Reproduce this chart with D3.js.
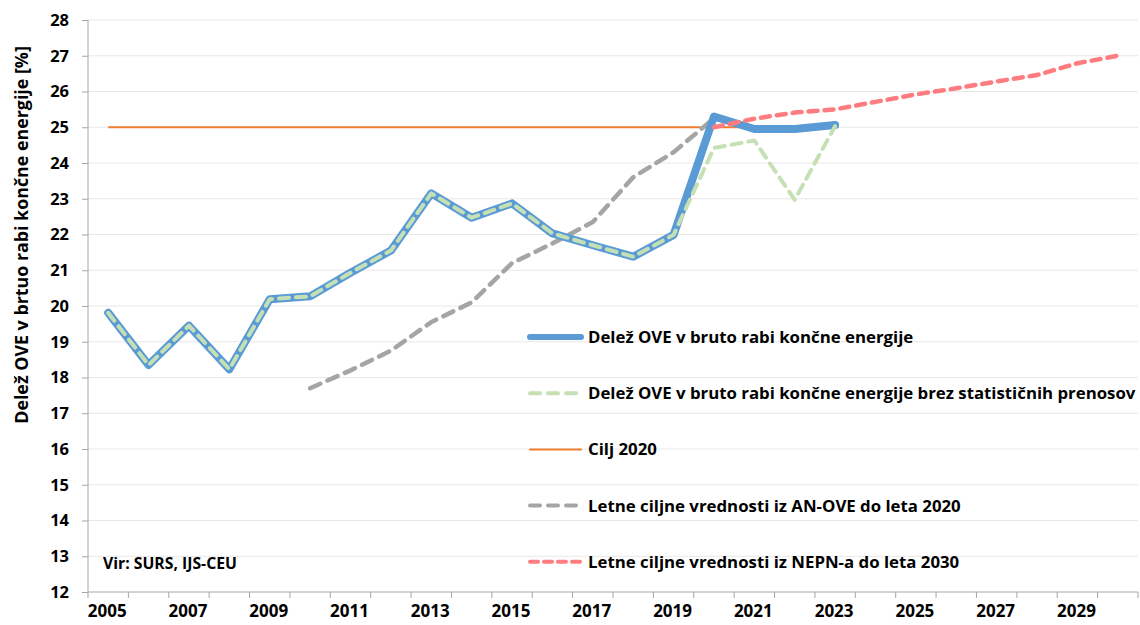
<!DOCTYPE html>
<html lang="sl">
<head>
<meta charset="UTF-8">
<title>Delež OVE</title>
<script src="https://d3js.org/d3.v7.min.js"></script>
<style>
  body { margin: 0; background: #fff; }
  svg text { font-family: "Open Sans", Lato, sans-serif; font-weight: bold; fill: #000; }
</style>
</head>
<body>
<svg id="chart" width="1140" height="625"></svg>
<script>
// data
var years = d3.range(2005, 2031)
var tickYears = [2005, 2007, 2009, 2011, 2013, 2015, 2017, 2019, 2021, 2023, 2025, 2027, 2029]
var yTicks = d3.range(12, 29)

var shareYears = d3.range(2005, 2024)
var shareValues = [19.81, 18.35, 19.45, 18.23, 20.19, 20.27, 20.93, 21.55, 23.15, 22.47, 22.87, 22.03, 21.7, 21.38, 21.99, 25.3, 24.95, 24.95, 25.06]
var noTransferValues = [19.81, 18.35, 19.45, 18.23, 20.19, 20.27, 20.93, 21.55, 23.15, 22.47, 22.87, 22.03, 21.7, 21.38, 21.99, 24.42, 24.63, 22.97, 25.03]

var targetYears = [2005, 2023]
var targetValues = [25, 25]

var anoveYears = d3.range(2010, 2021)
var anoveValues = [17.7, 18.2, 18.75, 19.55, 20.1, 21.2, 21.75, 22.35, 23.6, 24.3, 25.25]

var nepnYears = d3.range(2020, 2031)
var nepnValues = [25.0, 25.24, 25.41, 25.5, 25.71, 25.92, 26.09, 26.28, 26.46, 26.79, 27.0]

var legendLabels = [
  'Delež OVE v bruto rabi končne energije',
  'Delež OVE v bruto rabi končne energije brez statističnih prenosov',
  'Cilj 2020',
  'Letne ciljne vrednosti iz AN-OVE do leta 2020',
  'Letne ciljne vrednosti iz NEPN-a do leta 2030'
]

const svg = d3.select('#chart')
const plotL = 88, plotR = 1138, plotT = 20, plotB = 592

const x = d3.scaleBand().domain(years).range([plotL, plotR]).padding(0)
const y = d3.scaleLinear().domain([12, 28]).range([plotB, plotT])
const cx = yr => x(yr) + x.bandwidth() / 2

// shrink/grow a text node's font so it spans the given width
function fitWidth(sel, w) {
  sel.each(function() {
    const fs = parseFloat(this.style.fontSize)
    const len = this.getComputedTextLength()
    if (len > 0) this.style.fontSize = (fs * w / len) + 'px'
  })
}

// gridlines
svg.append('g')
  .selectAll('line')
  .data(yTicks.filter(d => d > 12))
  .enter().append('line')
  .attr('x1', plotL).attr('x2', plotR)
  .attr('y1', d => y(d)).attr('y2', d => y(d))
  .attr('stroke', '#e8e8e8').attr('stroke-width', 1)

// y axis
const yAxis = svg.append('g')
  .attr('transform', `translate(${plotL},0)`)
  .call(d3.axisLeft(y).tickValues(yTicks).tickSize(6).tickPadding(13).tickFormat(d3.format('d')))
yAxis.selectAll('path, line').attr('stroke', '#a6a6a6')
yAxis.select('.domain').attr('d', `M0,${plotT}V${plotB}`)
yAxis.selectAll('text').style('font-size', '16.5px')

// x axis: ticks between categories, labels on every other year
const xAxis = svg.append('g').attr('transform', `translate(0,${plotB})`)
xAxis.append('line').attr('x1', plotL).attr('x2', plotR).attr('stroke', '#a6a6a6')
xAxis.selectAll('.tk')
  .data(years.concat([2031]))
  .enter().append('line')
  .attr('x1', d => d == 2031 ? plotR : x(d))
  .attr('x2', d => d == 2031 ? plotR : x(d))
  .attr('y1', 0).attr('y2', 6)
  .attr('stroke', '#a6a6a6')
xAxis.selectAll('text')
  .data(tickYears)
  .enter().append('text')
  .attr('x', d => cx(d) - 1)
  .attr('y', 25)
  .attr('text-anchor', 'middle')
  .style('font-size', '17px')
  .text(d => d)

// y axis title
const title = svg.append('text')
  .attr('transform', 'translate(28,235) rotate(-90)')
  .attr('text-anchor', 'middle')
  .style('font-size', '17px')
  .text('Delež OVE v brtuo rabi končne energije [%]')
fitWidth(title, 378)

const line = d3.line().x(d => cx(d[0])).y(d => y(d[1]))
const zipped = (xs, vs) => xs.map((yr, i) => [yr, vs[i]])

svg.append('path').datum(zipped(targetYears, targetValues))
  .attr('d', line).attr('fill', 'none').attr('stroke', '#ed7d31').attr('stroke-width', 2)

svg.append('path').datum(zipped(anoveYears, anoveValues))
  .attr('d', line).attr('fill', 'none').attr('stroke', '#a5a5a5').attr('stroke-width', 4.5)
  .attr('stroke-dasharray', '11,8').attr('stroke-linecap', 'round')

svg.append('path').datum(zipped(shareYears, shareValues))
  .attr('d', line).attr('fill', 'none').attr('stroke', '#5b9bd5').attr('stroke-width', 8)
  .attr('stroke-linejoin', 'round').attr('stroke-linecap', 'round')

svg.append('path').datum(zipped(nepnYears, nepnValues))
  .attr('d', line).attr('fill', 'none').attr('stroke', '#ff7c80').attr('stroke-width', 4.5)
  .attr('stroke-dasharray', '9,7').attr('stroke-linecap', 'round')

svg.append('path').datum(zipped(shareYears, noTransferValues))
  .attr('d', line).attr('fill', 'none').attr('stroke', '#c5e0b4').attr('stroke-width', 4)
  .attr('stroke-dasharray', '10,7').attr('stroke-linecap', 'round').attr('stroke-linejoin', 'round')

// legend
const legendStyles = [
  { color: '#5b9bd5', width: 6, dash: null },
  { color: '#c5e0b4', width: 4, dash: '10,8' },
  { color: '#ed7d31', width: 2, dash: null },
  { color: '#a5a5a5', width: 4, dash: '10,8' },
  { color: '#ff7c80', width: 4, dash: '8,6' }
]
const legend = svg.append('g')
legendLabels.forEach(function(lbl, i) {
  const ly = 337 + i * 56.2
  const st = legendStyles[i]
  legend.append('line')
    .attr('x1', 530).attr('x2', 581).attr('y1', ly).attr('y2', ly)
    .attr('stroke', st.color).attr('stroke-width', st.width)
    .attr('stroke-dasharray', st.dash).attr('stroke-linecap', 'round')
  legend.append('text')
    .attr('x', 588).attr('y', ly + 6)
    .style('font-size', '16px')
    .text(lbl)
})
// widest label runs to the right edge of the plot
const longest = legend.selectAll('text').filter((d, i) => i == 1)
const legendFs = parseFloat(longest.style('font-size')) * 548 / longest.node().getComputedTextLength()
legend.selectAll('text').style('font-size', legendFs + 'px')

const vir = svg.append('text')
  .attr('x', 103).attr('y', 569)
  .style('font-size', '13px')
  .text('Vir: SURS, IJS-CEU')
fitWidth(vir, 134)
</script>
</body>
</html>
